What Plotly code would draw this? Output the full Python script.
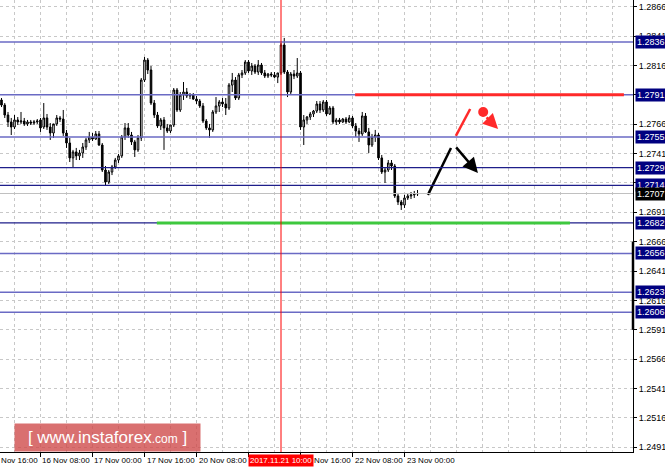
import plotly.graph_objects as go

# ---------------- data (H1 bars, 15 Nov 20:00 .. 23 Nov 04:00) ----------------
bar_index = list(range(129))

open_ = [1.27866, 1.27823, 1.27738, 1.27679, 1.27636, 1.27696, 1.27679, 1.27687, 1.27662, 1.27679,
         1.27670, 1.27679, 1.27696, 1.27636, 1.27713, 1.27636, 1.27585, 1.27662, 1.27713, 1.27704,
         1.27585, 1.27500, 1.27373, 1.27424, 1.27390, 1.27415, 1.27466, 1.27526, 1.27551, 1.27534,
         1.27577, 1.27483, 1.27270, 1.27168, 1.27253, 1.27296, 1.27355, 1.27390, 1.27551, 1.27628,
         1.27568, 1.27509, 1.27441, 1.27543, 1.28036, 1.28206, 1.28121, 1.27840, 1.27738, 1.27645,
         1.27696, 1.27628, 1.27602, 1.27653, 1.27951, 1.27781, 1.27908, 1.27934, 1.27900, 1.27908,
         1.27874, 1.27857, 1.27815, 1.27687, 1.27628, 1.27611, 1.27764, 1.27815, 1.27849, 1.27832,
         1.27798, 1.27993, 1.28036, 1.27883, 1.28079, 1.28096, 1.28189, 1.28113, 1.28155, 1.28104,
         1.28164, 1.28096, 1.28070, 1.28087, 1.28079, 1.28061, 1.28096, 1.28334, 1.28104, 1.27934,
         1.28087, 1.28070, 1.28096, 1.27636, 1.27696, 1.27721, 1.27747, 1.27772, 1.27832, 1.27781,
         1.27849, 1.27747, 1.27798, 1.27679, 1.27696, 1.27679, 1.27704, 1.27679, 1.27713, 1.27645,
         1.27602, 1.27577, 1.27730, 1.27594, 1.27483, 1.27551, 1.27568, 1.27373, 1.27253, 1.27270,
         1.27330, 1.27304, 1.27049, 1.26998, 1.26972, 1.27032, 1.27049, 1.27058, 1.27066]

high = [1.27883, 1.27840, 1.27764, 1.27713, 1.27738, 1.27721, 1.27764, 1.27713, 1.27696, 1.27696,
        1.27696, 1.27704, 1.27713, 1.27840, 1.27747, 1.27670, 1.27653, 1.27738, 1.27730, 1.27781,
        1.27611, 1.27543, 1.27441, 1.27458, 1.27441, 1.27500, 1.27543, 1.27594, 1.27585, 1.27602,
        1.27602, 1.27500, 1.27304, 1.27270, 1.27313, 1.27373, 1.27407, 1.27568, 1.27670, 1.27670,
        1.27594, 1.27526, 1.27568, 1.28053, 1.28232, 1.28223, 1.28155, 1.27866, 1.27764, 1.27713,
        1.27721, 1.27662, 1.27653, 1.27968, 1.27968, 1.27934, 1.28019, 1.27968, 1.27925, 1.27925,
        1.27900, 1.27874, 1.27840, 1.27704, 1.27662, 1.27781, 1.27891, 1.27866, 1.27883, 1.27883,
        1.28010, 1.28096, 1.28061, 1.28096, 1.28121, 1.28206, 1.28206, 1.28181, 1.28172, 1.28206,
        1.28181, 1.28121, 1.28096, 1.28104, 1.28104, 1.28096, 1.28351, 1.28394, 1.28121, 1.28104,
        1.28121, 1.28223, 1.28113, 1.27738, 1.27730, 1.27764, 1.27781, 1.27857, 1.27857, 1.27866,
        1.27866, 1.27815, 1.27815, 1.27713, 1.27713, 1.27713, 1.27721, 1.27738, 1.27730, 1.27670,
        1.27628, 1.27764, 1.27755, 1.27628, 1.27577, 1.27611, 1.27585, 1.27398, 1.27287, 1.27355,
        1.27355, 1.27321, 1.27075, 1.27015, 1.27058, 1.27066, 1.27083, 1.27092, 1.27100]

low = [1.27806, 1.27713, 1.27636, 1.27568, 1.27619, 1.27653, 1.27662, 1.27645, 1.27645, 1.27653,
       1.27653, 1.27662, 1.27594, 1.27619, 1.27611, 1.27526, 1.27543, 1.27645, 1.27679, 1.27560,
       1.27458, 1.27338, 1.27287, 1.27355, 1.27355, 1.27373, 1.27441, 1.27500, 1.27517, 1.27526,
       1.27475, 1.27253, 1.27142, 1.27151, 1.27227, 1.27279, 1.27330, 1.27373, 1.27526, 1.27543,
       1.27483, 1.27381, 1.27424, 1.27517, 1.28019, 1.28087, 1.27823, 1.27713, 1.27628, 1.27611,
       1.27441, 1.27585, 1.27585, 1.27636, 1.27764, 1.27764, 1.27866, 1.27883, 1.27874, 1.27866,
       1.27832, 1.27798, 1.27670, 1.27611, 1.27543, 1.27594, 1.27747, 1.27764, 1.27806, 1.27738,
       1.27781, 1.27934, 1.27866, 1.27866, 1.28053, 1.28079, 1.28096, 1.28079, 1.28087, 1.28079,
       1.28079, 1.28053, 1.28053, 1.28061, 1.28053, 1.28010, 1.28079, 1.28087, 1.27891, 1.27917,
       1.28044, 1.28053, 1.27611, 1.27483, 1.27662, 1.27696, 1.27721, 1.27755, 1.27755, 1.27764,
       1.27730, 1.27738, 1.27662, 1.27653, 1.27662, 1.27670, 1.27662, 1.27670, 1.27628, 1.27551,
       1.27509, 1.27560, 1.27585, 1.27415, 1.27466, 1.27509, 1.27355, 1.27236, 1.27160, 1.27253,
       1.27270, 1.27032, 1.26972, 1.26930, 1.26947, 1.27015, 1.27023, 1.27032, 1.27049]

close = [1.27823, 1.27738, 1.27679, 1.27636, 1.27696, 1.27679, 1.27687, 1.27662, 1.27679, 1.27670,
         1.27679, 1.27687, 1.27628, 1.27713, 1.27636, 1.27585, 1.27662, 1.27713, 1.27704, 1.27585,
         1.27500, 1.27373, 1.27424, 1.27390, 1.27415, 1.27466, 1.27526, 1.27551, 1.27534, 1.27577,
         1.27483, 1.27270, 1.27168, 1.27253, 1.27296, 1.27355, 1.27390, 1.27551, 1.27628, 1.27568,
         1.27509, 1.27441, 1.27543, 1.28036, 1.28206, 1.28121, 1.27840, 1.27738, 1.27645, 1.27696,
         1.27628, 1.27602, 1.27653, 1.27951, 1.27781, 1.27908, 1.27934, 1.27900, 1.27908, 1.27874,
         1.27857, 1.27815, 1.27687, 1.27628, 1.27611, 1.27764, 1.27815, 1.27849, 1.27832, 1.27798,
         1.27993, 1.28036, 1.27883, 1.28079, 1.28096, 1.28189, 1.28113, 1.28155, 1.28104, 1.28164,
         1.28096, 1.28070, 1.28087, 1.28079, 1.28061, 1.28096, 1.28334, 1.28104, 1.27934, 1.28087,
         1.28070, 1.28096, 1.27636, 1.27696, 1.27721, 1.27747, 1.27772, 1.27832, 1.27781, 1.27849,
         1.27747, 1.27798, 1.27679, 1.27696, 1.27679, 1.27704, 1.27679, 1.27713, 1.27645, 1.27602,
         1.27577, 1.27730, 1.27594, 1.27483, 1.27551, 1.27568, 1.27373, 1.27253, 1.27270, 1.27330,
         1.27304, 1.27049, 1.26998, 1.26972, 1.27032, 1.27049, 1.27058, 1.27066, 1.27070]

# time-axis labels (bar index -> text)
time_label_idx = [-4, 12, 28, 44, 60, 76, 92, 108, 124]
time_labels = ["15 Nov 16:00", "16 Nov 08:00", "17 Nov 00:00", "17 Nov 16:00", "20 Nov 08:00",
               "21 Nov 00:00", "21 Nov 16:00", "22 Nov 08:00", "23 Nov 00:00"]
vline_idx = 86
vline_label = "2017.11.21 10:00"

# price axis ticks
price_ticks = [1.2866, 1.2841, 1.2816, 1.2791, 1.2766, 1.2741, 1.2716, 1.2691, 1.2666, 1.2641,
               1.2616, 1.2591, 1.2566, 1.2541, 1.2516, 1.2491]
price_tick_text = ["1.2866", "1.2841", "1.2816", "1.2791", "1.2766", "1.2741", "1.2716", "1.2691",
                   "1.2666", "1.2641", "1.2616", "1.2591", "1.2566", "1.2541", "1.2516", "1.2491"]

# horizontal levels
levels_light = [1.2836, 1.2791, 1.2755, 1.2656, 1.2623, 1.2606]
levels_dark = [1.2729, 1.2714, 1.2682]
levels_all = [1.2836, 1.2791, 1.2755, 1.2729, 1.2714, 1.2682, 1.2656, 1.2623, 1.2606]
current_price = 1.2707

# forecast drawings (bar index, price)
resist_x = [108.8, 191.5]
resist_y = [1.2791, 1.2791]
support_x = [47.8, 174.9]
support_y = [1.2682, 1.2682]
up_path_x = [131.2, 138.3]
up_path_y = [1.27058, 1.27458]
down_arrow_x = [139.5, 146.6]
down_arrow_y = [1.27475, 1.27245]
red_up_x = [139.8, 144.2]
red_up_y = [1.27560, 1.27789]
red_dot_x = [148.2]
red_dot_y = [1.27764]
red_arrow_x = [148.8, 152.8]
red_arrow_y = [1.27730, 1.27619]

X_RANGE = [-0.46, 194.3]
Y_RANGE = [1.24870, 1.28717]

FONT = "Liberation Sans"

fig = go.Figure()

fig.add_trace(go.Candlestick(
    x=bar_index, open=open_, high=high, low=low, close=close,
    increasing=dict(line=dict(color="black", width=1), fillcolor="white"),
    decreasing=dict(line=dict(color="black", width=1), fillcolor="black"),
    whiskerwidth=0, hoverinfo="skip", showlegend=False))

shapes = []
# current price line
shapes.append(dict(type="line", xref="paper", x0=0, x1=1, yref="y", y0=current_price, y1=current_price,
                   line=dict(color="#c0c0c0", width=1), layer="above"))
for lv in levels_light:
    shapes.append(dict(type="line", xref="paper", x0=0, x1=1, yref="y", y0=lv, y1=lv,
                       line=dict(color="#6a6ac4", width=1.5), layer="above"))
for lv in levels_dark:
    shapes.append(dict(type="line", xref="paper", x0=0, x1=1, yref="y", y0=lv, y1=lv,
                       line=dict(color="#1e1e8a", width=1.3), layer="above"))
# forecast horizontal lines drawn over the levels
shapes.append(dict(type="line", xref="x", x0=resist_x[0], x1=resist_x[1], yref="y",
                   y0=resist_y[0], y1=resist_y[1], line=dict(color="#ff2a2a", width=3), layer="above"))
shapes.append(dict(type="line", xref="x", x0=support_x[0], x1=support_x[1], yref="y",
                   y0=support_y[0], y1=support_y[1], line=dict(color="#3ec83e", width=3), layer="above"))
# vertical line
shapes.append(dict(type="line", xref="x", x0=vline_idx, x1=vline_idx, yref="paper", y0=0, y1=1,
                   line=dict(color="#ff0000", width=1), layer="above"))
# right axis marker
shapes.append(dict(type="line", xref="paper", x0=1, x1=1, yref="y", y0=1.2666, y1=1.2591,
                   line=dict(color="black", width=2.5), layer="above"))
fig.update_layout(shapes=shapes)

# forecast path
fig.add_trace(go.Scatter(x=up_path_x, y=up_path_y, mode="lines", line=dict(color="black", width=2.5),
                         hoverinfo="skip", showlegend=False))
fig.add_trace(go.Scatter(x=red_up_x, y=red_up_y, mode="lines", line=dict(color="#ff2a2a", width=2.5),
                         hoverinfo="skip", showlegend=False))
fig.add_trace(go.Scatter(x=red_dot_x, y=red_dot_y, mode="markers",
                         marker=dict(color="#ff2a2a", size=10), hoverinfo="skip", showlegend=False))

annotations = []
annotations.append(dict(x=down_arrow_x[1], y=down_arrow_y[1], ax=down_arrow_x[0], ay=down_arrow_y[0],
                        xref="x", yref="y", axref="x", ayref="y", text="", showarrow=True,
                        arrowhead=2, arrowsize=1.2, arrowwidth=2.5, arrowcolor="black"))
annotations.append(dict(x=red_arrow_x[1], y=red_arrow_y[1], ax=red_arrow_x[0], ay=red_arrow_y[0],
                        xref="x", yref="y", axref="x", ayref="y", text="", showarrow=True,
                        arrowhead=2, arrowsize=1.2, arrowwidth=2.5, arrowcolor="#ff2a2a"))

# time labels (left aligned at tick, MT4 style)
span = X_RANGE[1] - X_RANGE[0]
for idx, txt in zip(time_label_idx, time_labels):
    annotations.append(dict(x=(idx - X_RANGE[0]) / span, y=0, xref="paper", yref="paper",
                            xanchor="left", yanchor="top", yshift=-2, xshift=0, text=txt, showarrow=False,
                            font=dict(family=FONT, size=8, color="black")))
# vertical line label
annotations.append(dict(x=vline_idx, y=0, xref="x", yref="paper", xanchor="center", yanchor="top",
                        yshift=-2, text=vline_label, showarrow=False, bgcolor="#ff0000",
                        borderpad=1, font=dict(family=FONT, size=8, color="white")))

# level labels on price axis
for lv in levels_all:
    annotations.append(dict(x=1, y=lv, xref="paper", yref="y", xanchor="left", yanchor="middle",
                            xshift=2, text=f"{lv:.4f}", showarrow=False, bgcolor="#000080",
                            borderpad=1, font=dict(family=FONT, size=9, color="white")))
annotations.append(dict(x=1, y=current_price, xref="paper", yref="y", xanchor="left", yanchor="middle",
                        xshift=2, text=f"{current_price:.4f}", showarrow=False, bgcolor="#000000",
                        borderpad=1, font=dict(family=FONT, size=9, color="white")))

# watermark
annotations.append(dict(x=14 / 633, y=0, xref="paper", yref="paper", xanchor="left", yanchor="bottom",
                        text="[ www.instaforex<span style='font-size:12px'>.com</span> ]",
                        showarrow=False, bgcolor="rgba(206,72,72,0.78)", width=183, height=25,
                        font=dict(family=FONT, size=17, color="white")))
fig.update_layout(annotations=annotations)

fig.update_layout(
    width=665, height=470,
    margin=dict(l=0, r=32, t=0, b=18),
    paper_bgcolor="white", plot_bgcolor="white",
    xaxis=dict(range=X_RANGE, rangeslider=dict(visible=False), showticklabels=False,
               tickvals=list(range(-4, 196, 8)), ticks="", showgrid=True, gridcolor="#c8c8c8",
               griddash="3px,3px", gridwidth=1, zeroline=False,
               showline=True, linecolor="black", linewidth=1,
               minor=dict(tickvals=time_label_idx, ticks="outside", ticklen=4, tickcolor="black",
                          showgrid=False)),
    yaxis=dict(range=Y_RANGE, side="right", tickvals=price_ticks, ticktext=price_tick_text,
               tickfont=dict(family=FONT, size=9, color="black"), ticks="outside", ticklen=3,
               tickcolor="black", showgrid=True, gridcolor="#c8c8c8", griddash="3px,3px",
               zeroline=False, showline=True, linecolor="black", linewidth=1),
    showlegend=False,
)

fig.write_html("out.html", config={"displayModeBar": False},
               post_script="document.body.style.margin='0px';document.body.style.overflow='hidden';")
